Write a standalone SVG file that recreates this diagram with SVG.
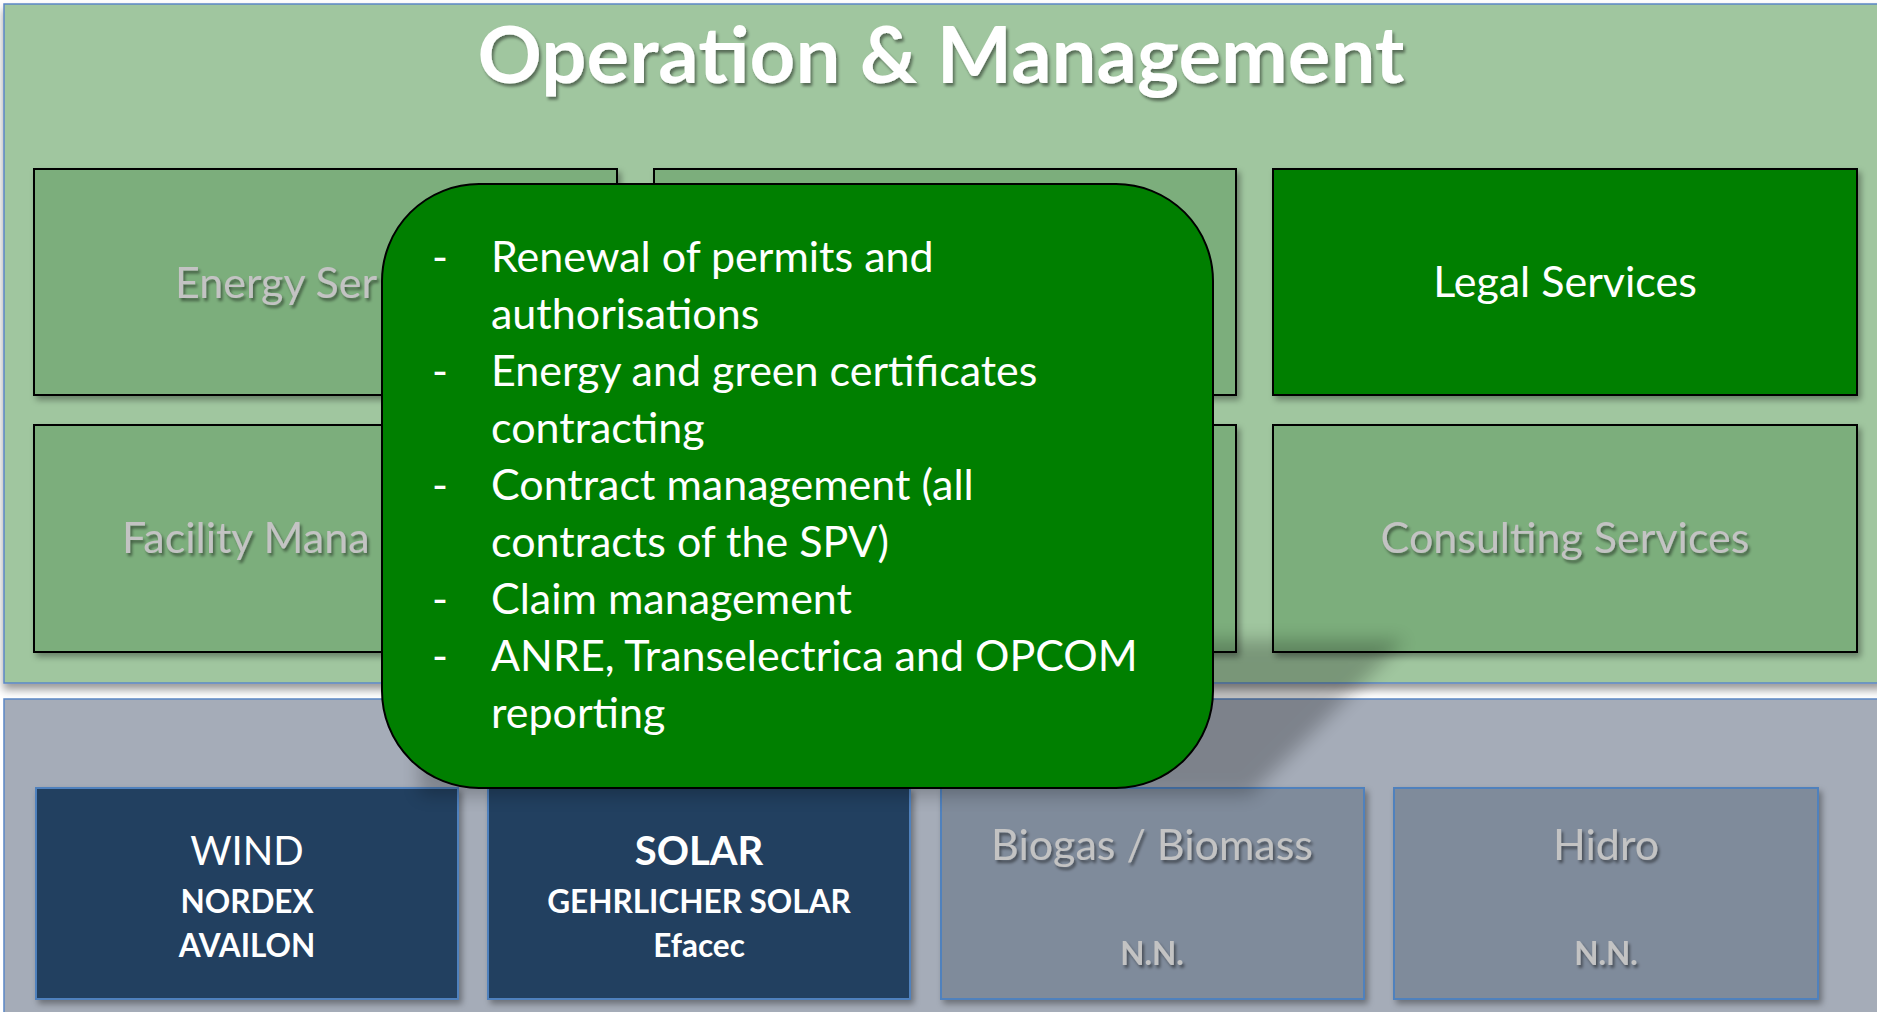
<svg xmlns="http://www.w3.org/2000/svg" width="1877" height="1012" viewBox="0 0 1877 1012">
  <defs>
    <filter id="boxShadow" x="-10%" y="-10%" width="130%" height="130%">
      <feDropShadow dx="3" dy="4" stdDeviation="3" flood-color="#000" flood-opacity="0.35"/>
    </filter>
    <filter id="panelShadow" x="-5%" y="-5%" width="110%" height="120%">
      <feDropShadow dx="0" dy="6" stdDeviation="4" flood-color="#000" flood-opacity="0.4"/>
    </filter>
    <filter id="textShadow" x="-10%" y="-30%" width="120%" height="170%">
      <feDropShadow dx="2" dy="3" stdDeviation="1.5" flood-color="#000" flood-opacity="0.45"/>
    </filter>
    <filter id="blur8" x="-30%" y="-30%" width="160%" height="160%">
      <feGaussianBlur stdDeviation="9"/>
    </filter>
  </defs>
  <style>
    .panelTop { fill: #a0c69f; stroke: #5b87c5; stroke-width: 1.5; }
    .panelBot { fill: #a5acb8; stroke: #5b87c5; stroke-width: 1.5; }
    .gbox { fill: #7bae7b; stroke: #000; stroke-width: 2; }
    .legal { fill: #007f00; stroke: #000; stroke-width: 2; }
    .navy { fill: #243f60; stroke: #4f81bd; stroke-width: 2; }
    .grey { fill: #7f8b9b; stroke: #4f81bd; stroke-width: 2; }
    .popup { fill: #007f00; stroke: #000; stroke-width: 2; }
    text { font-family: Lato, "Open Sans", "Liberation Sans", sans-serif; }
    .title { font-size: 78px; font-weight: bold; fill: #fff; }
    .lbl { font-size: 43px; fill: #fff; }
    .dim { font-size: 43px; fill: #c3c3c3; }
    .pt { font-size: 43px; fill: #fff; }
    .big { font-size: 40px; fill: #fff; }
    .sub { font-size: 31.5px; font-weight: bold; fill: #fff; }
    .dimB { font-size: 31.5px; font-weight: bold; fill: #c3c3c3; }
  </style>

  <rect width="1877" height="1012" fill="#ffffff"/>

  <!-- panels -->
  <g id="panel-bottom">
    <rect class="panelBot" x="4" y="699" width="1880" height="320"/>
  </g>
  <g id="panel-top">
    <rect class="panelTop" x="4" y="4" width="1880" height="679" filter="url(#panelShadow)"/>
    <text class="title" x="941" y="83" text-anchor="middle" filter="url(#textShadow)" textLength="927" lengthAdjust="spacingAndGlyphs">Operation &amp; Management</text>
  </g>

  <!-- service boxes -->
  <g id="energy-services">
    <rect class="gbox" x="34" y="169" width="583" height="226" filter="url(#boxShadow)"/>
    <text class="dim" x="175" y="298" filter="url(#textShadow)">Energy Ser</text>
  </g>
  <g id="middle-top">
    <rect class="gbox" x="654" y="169" width="582" height="226" filter="url(#boxShadow)"/>
  </g>
  <g id="legal-services">
    <rect class="legal" x="1273" y="169" width="584" height="226" filter="url(#boxShadow)"/>
    <text class="lbl" x="1565" y="297" text-anchor="middle">Legal Services</text>
  </g>
  <g id="facility-management">
    <rect class="gbox" x="34" y="425" width="583" height="227" filter="url(#boxShadow)"/>
    <text class="dim" x="122" y="553" filter="url(#textShadow)">Facility Mana</text>
  </g>
  <g id="middle-bottom">
    <rect class="gbox" x="654" y="425" width="582" height="227" filter="url(#boxShadow)"/>
  </g>
  <g id="consulting-services">
    <rect class="gbox" x="1273" y="425" width="584" height="227" filter="url(#boxShadow)"/>
    <text class="dim" x="1565" y="553" text-anchor="middle" filter="url(#textShadow)">Consulting Services</text>
  </g>

  <!-- technology boxes -->
  <g id="wind">
    <rect class="navy" x="36" y="788" width="422" height="211" filter="url(#boxShadow)"/>
    <text class="big" x="247" y="865" text-anchor="middle">WIND</text>
    <text class="sub" x="247" y="913" text-anchor="middle">NORDEX</text>
    <text class="sub" x="247" y="957" text-anchor="middle">AVAILON</text>
  </g>
  <g id="solar">
    <rect class="navy" x="488" y="788" width="422" height="211" filter="url(#boxShadow)"/>
    <text class="big" x="699" y="865" text-anchor="middle" font-weight="bold">SOLAR</text>
    <text class="sub" x="699" y="913" text-anchor="middle">GEHRLICHER SOLAR</text>
    <text class="sub" x="699" y="957" text-anchor="middle">Efacec</text>
  </g>
  <g id="biogas">
    <rect class="grey" x="941" y="788" width="423" height="211" filter="url(#boxShadow)"/>
    <text class="dim" x="1152" y="860" text-anchor="middle" filter="url(#textShadow)">Biogas / Biomass</text>
    <text class="dimB" x="1152" y="965" text-anchor="middle" filter="url(#textShadow)">N.N.</text>
  </g>
  <g id="hidro">
    <rect class="grey" x="1394" y="788" width="424" height="211" filter="url(#boxShadow)"/>
    <text class="dim" x="1606" y="860" text-anchor="middle" filter="url(#textShadow)">Hidro</text>
    <text class="dimB" x="1606" y="965" text-anchor="middle" filter="url(#textShadow)">N.N.</text>
  </g>

  <g id="connectors"/>

  <!-- popup -->
  <g id="popup">
    <polygon points="420,640 1405,640 1250,795 420,795" fill="#000" opacity="0.24" filter="url(#blur8)"/>
    <rect class="popup" x="382" y="184" width="831" height="604" rx="97" ry="97"/>
    <g class="pt">
      <text x="432" y="272">-</text><text x="491" y="272">Renewal of permits and</text>
      <text x="491" y="329">authorisations</text>
      <text x="432" y="386">-</text><text x="491" y="386">Energy and green certificates</text>
      <text x="491" y="443">contracting</text>
      <text x="432" y="500">-</text><text x="491" y="500">Contract management (all</text>
      <text x="491" y="557">contracts of the SPV)</text>
      <text x="432" y="614">-</text><text x="491" y="614">Claim management</text>
      <text x="432" y="671">-</text><text x="491" y="671">ANRE, Transelectrica and OPCOM</text>
      <text x="491" y="728">reporting</text>
    </g>
  </g>
</svg>
